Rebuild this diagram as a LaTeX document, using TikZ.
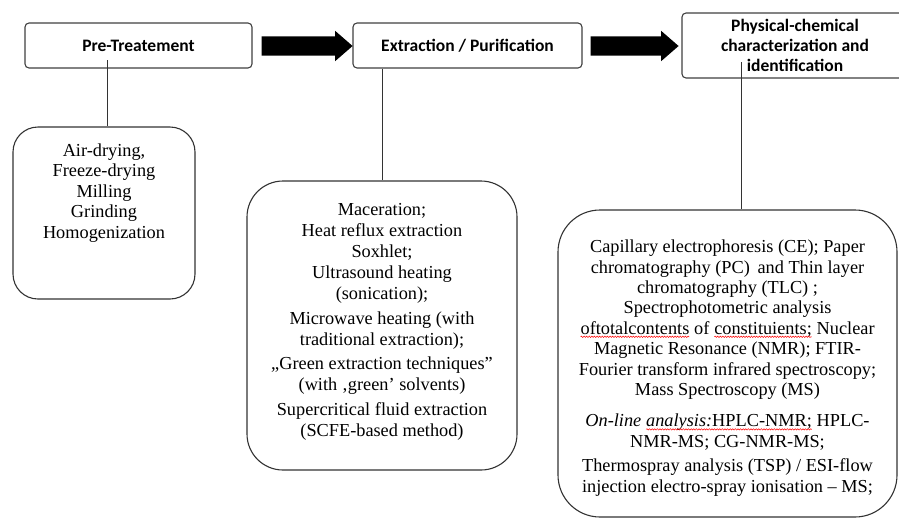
\documentclass[tikz,border=0pt]{standalone}
\usepackage{fontspec}
\setmainfont{Liberation Serif}
\newfontfamily\calfont{Carlito}
\usetikzlibrary{shapes.arrows,decorations.pathmorphing}
\newcommand{\redsquig}[1]{\tikz[baseline=(sq.base)]{\node[inner sep=0pt,outer sep=0pt] (sq) {#1};
  \draw[red, line width=0.5pt, decorate, decoration={snake, amplitude=0.7pt, segment length=2.6pt}]
  ([yshift=-2.5pt]sq.base west) -- ([yshift=-2.5pt]sq.base east);}}
\begin{document}
\begin{tikzpicture}[x=1pt,y=-1pt,
  tbox/.style={draw=black!75, line width=1.1pt, rounded corners=4pt, fill=white, inner sep=0pt,
    font=\calfont\bfseries\fontsize{17.5}{20}\selectfont, align=center},
  rbox/.style={draw=black!80, line width=1.1pt, fill=white, inner sep=0pt},
  txt/.style={font=\fontsize{18.3}{20.6}\selectfont, align=center, inner sep=0pt},
  blockarrow/.style={single arrow, fill=black, draw=none, minimum width=30pt,
    inner xsep=0pt, inner ysep=9.5pt, single arrow head extend=5.5pt,
    single arrow tip angle=82},
  link/.style={draw=black!80, line width=0.9pt}]
\useasboundingbox (0,0) rectangle (899,520);

% top boxes
\node[tbox, minimum width=227pt, minimum height=45pt] (pre) at (138.5,45.5) {Pre-Treatement};
\node[tbox, minimum width=229pt, minimum height=45pt] (ext) at (467.5,45.5) {Extraction / Purification};
\node[tbox, minimum width=226pt, minimum height=65pt] (phy) at (795,45.5) {Physical-chemical\\characterization and\\identification};

% block arrows
\node[blockarrow, minimum height=91pt] (a1) at (301.5,46) {};
\node[blockarrow, minimum height=88pt] (a2) at (629,46) {};

% lower boxes
\node[rbox, rounded corners=25pt, minimum width=182pt, minimum height=172pt] (lb) at (104,213) {};
\node[rbox, rounded corners=36pt, minimum width=270pt, minimum height=289pt] (mb) at (382,325.5) {};
\node[rbox, rounded corners=42pt, minimum width=339pt, minimum height=307pt] (rb) at (727.5,363.5) {};

% texts of lower boxes
\node[txt] (lbt) at (104,193) {Air-drying,\\Freeze-drying\\Milling\\Grinding\\Homogenization};
\node[txt, font=\fontsize{18.3}{21}\selectfont] (mbt) at (382,322) {Maceration;\\Heat reflux extraction\\Soxhlet;\\Ultrasound heating\\(sonication);\\[4pt]
Microwave heating (with\\traditional extraction);\\[3pt]
„Green extraction techniques”\\(with ‚green’ solvents)\\[4pt]
Supercritical fluid extraction\\(SCFE-based method)};
\node[txt, font=\fontsize{18.3}{20.4}\selectfont] (rbt) at (727.5,368) {Capillary electrophoresis (CE); Paper\\chromatography (PC)\, and Thin layer\\chromatography (TLC) ;\\Spectrophotometric analysis\\\redsquig{oftotalcontents} of \redsquig{constituients;} Nuclear\\Magnetic Resonance (NMR); FTIR-\\Fourier transform infrared spectroscopy;\\Mass Spectroscopy (MS)\\[11pt]
\textit{On-line }\redsquig{\textit{analysis:}HPLC-NMR;} HPLC-\\NMR-MS; CG-NMR-MS;\\[4pt]
Thermospray analysis (TSP) / ESI-flow\\injection electro-spray ionisation – MS;};

% connectors
\coordinate (p1) at (107,60);
\coordinate (p3) at (741,62);
\draw[link] (p1) -- (p1 |- lb.north);
\draw[link] (mb.north |- ext.south) -- (mb.north);
\draw[link] (p3) -- (p3 |- rb.north);
\end{tikzpicture}
\end{document}
